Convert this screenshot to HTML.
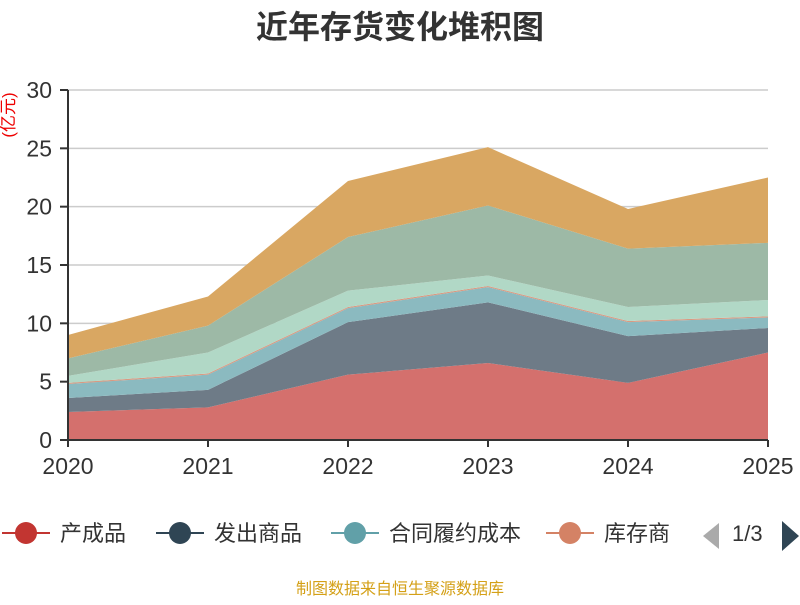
<!DOCTYPE html>
<html><head><meta charset="utf-8"><style>
body{margin:0;background:#fff;width:800px;height:600px;overflow:hidden;font-family:"Liberation Sans","Noto Sans CJK SC",sans-serif}
</style></head><body>
<svg id="chart" width="800" height="600" xmlns="http://www.w3.org/2000/svg">
<text x="400" y="38" text-anchor="middle" font-size="32" font-weight="bold" fill="#333" font-family="Liberation Sans, Noto Sans CJK SC, sans-serif">近年存货变化堆积图</text>
<text transform="translate(14,115) rotate(-90)" text-anchor="middle" font-size="17" fill="#e00" font-family="Liberation Sans, Noto Sans CJK SC, sans-serif">(亿元)</text>
<g id="grid"></g><g id="areas"></g><g id="axes"></g>
<g font-size="22" fill="#333" font-family="Liberation Sans, Noto Sans CJK SC, sans-serif">
 <g><line x1="2" y1="533" x2="50" y2="533" stroke="#c23531" stroke-width="2"/><circle cx="26" cy="533" r="11" fill="#c23531"/><text x="60" y="541">产成品</text></g>
 <g><line x1="156" y1="533" x2="204" y2="533" stroke="#2f4554" stroke-width="2"/><circle cx="180" cy="533" r="11" fill="#2f4554"/><text x="214" y="541">发出商品</text></g>
 <g><line x1="331" y1="533" x2="379" y2="533" stroke="#61a0a8" stroke-width="2"/><circle cx="355" cy="533" r="11" fill="#61a0a8"/><text x="389" y="541">合同履约成本</text></g>
 <g><line x1="546" y1="533" x2="594" y2="533" stroke="#d48265" stroke-width="2"/><circle cx="570" cy="533" r="11" fill="#d48265"/><text x="604" y="541">库存商</text></g>
 <path d="M719 523 L703 536 L719 549 Z" fill="#aaa"/>
 <text x="732" y="541">1/3</text>
 <path d="M782 521 L799 536 L782 551 Z" fill="#2f4554"/>
</g>
<text x="400" y="594" text-anchor="middle" font-size="16" fill="#d4a017" font-family="Liberation Sans, Noto Sans CJK SC, sans-serif">制图数据来自恒生聚源数据库</text>
</svg>
<script>
const years=["2020","2021","2022","2023","2024","2025"];
const yTicks=[0,5,10,15,20,25,30];
const s1=[2.4,2.8,5.6,6.6,4.9,7.5];
const s2=[1.2,1.5,4.5,5.2,4.0,2.1];
const s3=[1.2,1.3,1.2,1.3,1.2,0.9];
const s4=[0.1,0.1,0.1,0.1,0.1,0.1];
const s5=[0.6,1.8,1.4,0.9,1.2,1.4];
const s6=[1.5,2.3,4.6,6.0,5.0,4.9];
const s7=[2.0,2.5,4.8,5.0,3.4,5.6];
const series=[s1,s2,s3,s4,s5,s6,s7];
const names=["chanchengpin","fachushangpin","hetonglvyuechengben","kucunshangpin","series-5","series-6","series-7"];
const colors=["#d4706d","#6e7b87","#8bbac0","#d99a82","#b1d8c6","#9db9a6","#d9a762"];
const X=i=>68+i*140, Y=v=>440-v*350/30;
const NS="http://www.w3.org/2000/svg";
const grid=document.getElementById('grid'),areas=document.getElementById('areas'),axes=document.getElementById('axes');
function mk(tag,attrs,parent){const e=document.createElementNS(NS,tag);for(const k in attrs)e.setAttribute(k,attrs[k]);parent.appendChild(e);return e;}
yTicks.forEach(t=>{
 if(t>0){const g=mk('line',{x1:68,x2:768,y1:Y(t),y2:Y(t),stroke:'#ccc','stroke-width':1.5},grid);
 
 }
 const tk=mk('line',{x1:60,x2:68,y1:Y(t),y2:Y(t),stroke:'#333','stroke-width':2},axes);
 
 
 const tx=mk('text',{x:52,y:Y(t)+8,'text-anchor':'end','font-size':23,fill:'#333'},axes);tx.textContent=t;
 
 
});
let base=years.map(()=>0);
series.forEach((s,k)=>{
 const top=base.map((b,i)=>b+s[i]);
 let d='M'+years.map((_,i)=>X(i)+','+Y(top[i])).join(' L');
 for(let i=years.length-1;i>=0;i--)d+=' L'+X(i)+','+Y(base[i]);
 const p=mk('path',{d:d+' Z',fill:colors[k]},areas);
 
 
 base=top;
});
const ax=mk('line',{x1:68,x2:68,y1:90,y2:440,stroke:'#333','stroke-width':2},axes);


const xa=mk('line',{x1:68,x2:768,y1:440,y2:440,stroke:'#333','stroke-width':2},axes);


years.forEach((y,i)=>{
 const tk=mk('line',{x1:X(i),x2:X(i),y1:440,y2:447,stroke:'#333','stroke-width':2},axes);
 
 
 const t=mk('text',{x:X(i),y:474,'text-anchor':'middle','font-size':23,fill:'#333'},axes);t.textContent=y;
 
 
});
</script>
</body></html>
